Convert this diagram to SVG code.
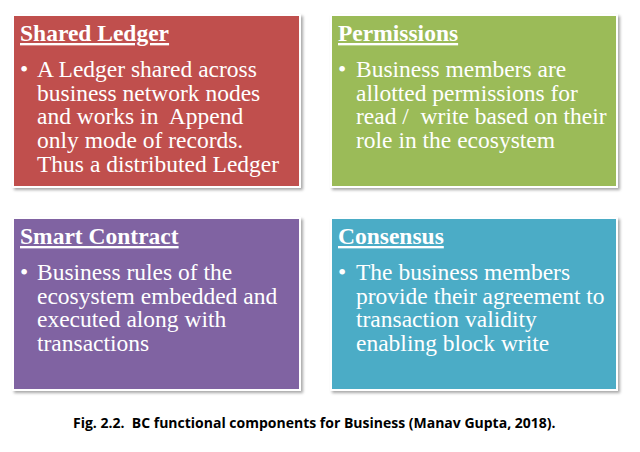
<svg xmlns="http://www.w3.org/2000/svg" width="640" height="452" viewBox="0 0 640 452">
<defs>
<filter id="sh" x="-5%" y="-5%" width="112%" height="115%">
<feGaussianBlur in="SourceAlpha" stdDeviation="1.5"/>
<feOffset dx="1.5" dy="2" result="b"/>
<feComponentTransfer><feFuncA type="linear" slope="0.35"/></feComponentTransfer>
<feMerge><feMergeNode/><feMergeNode in="SourceGraphic"/></feMerge>
</filter>
</defs>
<style>
.box{stroke:#ffffff;stroke-width:2;filter:url(#sh)}
.t{font-family:"Liberation Serif","Times New Roman",serif;font-weight:bold;font-size:23.5px;fill:#ffffff;text-decoration:underline}
.b{font-family:"Liberation Serif","Times New Roman",serif;font-size:23.5px;fill:#ffffff}
.cap{font-family:"Open Sans","Liberation Sans",sans-serif;font-weight:bold;font-size:14px;fill:#000000}
</style>
<rect width="640" height="452" fill="#ffffff"/>
<g id="shared-ledger">
<rect class="box" x="13" y="15" width="287" height="172" fill="#C0504D"/>
<text class="t" x="20" y="41">Shared Ledger</text>
<text class="b" x="20" y="77">•</text>
<text class="b" x="37" y="77">A Ledger shared across</text>
<text class="b" x="37" y="100.5">business network nodes</text>
<text class="b" x="37" y="124" xml:space="preserve">and works in  Append</text>
<text class="b" x="37" y="148">only mode of records.</text>
<text class="b" x="37" y="172">Thus a distributed Ledger</text>
</g>
<g id="permissions">
<rect class="box" x="331" y="15" width="286" height="172" fill="#9BBB59"/>
<text class="t" x="338" y="41">Permissions</text>
<text class="b" x="338" y="77">•</text>
<text class="b" x="356" y="77">Business members are</text>
<text class="b" x="356" y="100.5">allotted permissions for</text>
<text class="b" x="356" y="124" xml:space="preserve">read /  write based on their</text>
<text class="b" x="356" y="148">role in the ecosystem</text>
</g>
<g id="smart-contract">
<rect class="box" x="13" y="218" width="287" height="172" fill="#8064A2"/>
<text class="t" x="20" y="244">Smart Contract</text>
<text class="b" x="20" y="280">•</text>
<text class="b" x="37" y="280">Business rules of the</text>
<text class="b" x="37" y="303.5">ecosystem embedded and</text>
<text class="b" x="37" y="327">executed along with</text>
<text class="b" x="37" y="351">transactions</text>
</g>
<g id="consensus">
<rect class="box" x="331" y="218" width="286" height="172" fill="#4BACC6"/>
<text class="t" x="338" y="244">Consensus</text>
<text class="b" x="338" y="280">•</text>
<text class="b" x="356" y="280">The business members</text>
<text class="b" x="356" y="303.5">provide their agreement to</text>
<text class="b" x="356" y="327">transaction validity</text>
<text class="b" x="356" y="351">enabling block write</text>
</g>
<g id="connectors"></g>
<text class="cap" x="73" y="428" xml:space="preserve">Fig. 2.2.  BC functional components for Business (Manav Gupta, 2018).</text>
</svg>
